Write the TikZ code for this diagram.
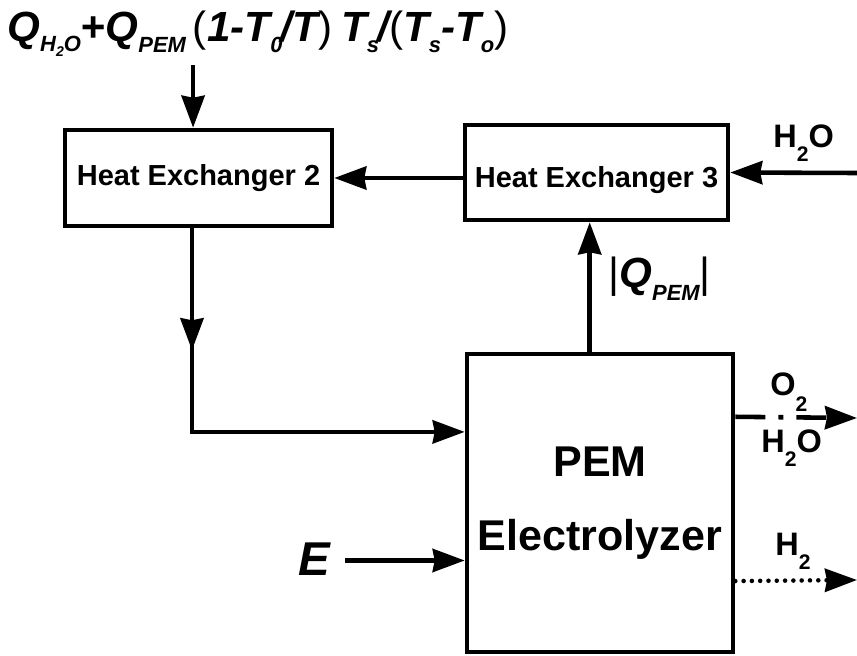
\documentclass[tikz,border=0pt]{standalone}
\usepackage{fontspec}
\setmainfont{Liberation Sans}
\usetikzlibrary{positioning, arrows.meta, calc, decorations.markings}

% lowered subscript: [size]{drop}{text}
\newcommand{\lowsub}[3][12]{\raisebox{-#2}{\fontsize{#1}{#1}\selectfont #3}}
\newcommand{\uppar}[1]{{\mdseries\upshape #1}}

\begin{document}
\begin{tikzpicture}[
    box/.style={draw, rectangle, line width=2.6pt, align=center, inner sep=0pt, font=\fontsize{16.5}{20}\selectfont\bfseries},
    arr/.style={-{Stealth[length=0.64cm, width=0.46cm, inset=0.04cm]}, line width=2.6pt},
    midarr/.style={postaction={decorate}, decoration={markings, mark=at position 2.44cm with {\arrow{Stealth[length=0.64cm, width=0.46cm, inset=0.04cm]}}}},
    lbl/.style={inner sep=0pt, anchor=base west, font=\fontsize{18.5}{21}\selectfont\bfseries},
    math/.style={inner sep=0pt, anchor=base west, font=\fontsize{24}{27}\selectfont\bfseries\itshape}
]
    \useasboundingbox (0,0) rectangle (17.14,-13.10);

    % blocks
    \node[box, minimum width=5.34cm, minimum height=1.92cm] (hx2) at (3.97,-3.56) {Heat Exchanger 2};
    \node[box, minimum width=5.26cm, minimum height=1.90cm] (hx3) at (11.93,-3.45) {\raisebox{-4.5pt}[\height][\depth]{Heat Exchanger 3}};
    \node[box, minimum width=5.32cm, minimum height=5.96cm, font=\fontsize{24.5}{42.5}\selectfont\bfseries] (pem) at (12.0,-10.06) {PEM\\Electrolyzer};

    % texts
    \node[math] (qin) at (0.14,-0.82) {Q\lowsub[12.5]{5.7pt}{H\lowsub[8]{3pt}{2}O}+Q\lowsub[12.5]{6.8pt}{PEM}\kern4pt\uppar{(}1-T\lowsub[12.5]{6.8pt}{0}\kern-1pt/T\uppar{)}\kern5pt T\lowsub[12.5]{6.8pt}{s}\kern-1pt/\uppar{(}T\lowsub[12.5]{6.8pt}{s}-T\lowsub[12.5]{6.8pt}{o}\uppar{)}};
    \node[math] (qpem) at (12.16,-5.74) {\uppar{|}Q\lowsub[12.5]{7.4pt}{PEM}\uppar{|}};
    \node[inner sep=0pt, font=\fontsize{27}{30}\selectfont\bfseries\itshape] (enode) at (6.28,-11.18) {E};
    \node[lbl] (h2oA) at (15.46,-2.94) {H\lowsub{8.5pt}{2}O};
    \node[lbl] (o2) at (15.4,-7.9) {O\lowsub{9.5pt}{2}};
    \node[lbl] (h2oB) at (15.22,-9.04) {H\lowsub{8.5pt}{2}O};
    \node[lbl] (h2) at (15.5,-11.1) {H\lowsub{8.5pt}{2}};

    % ports
    \coordinate (hx2in) at ($(hx2.north west)!0.48!(hx2.north east)$);
    \coordinate (hx2out) at ($(hx2.south west)!0.476!(hx2.south east)$);
    \coordinate (qtop) at ([yshift=1.25cm]hx2in);
    \coordinate (pemtop) at ($(pem.north west)!0.462!(pem.north east)$);
    \coordinate (pemin1) at ($(pem.north west)!0.265!(pem.south west)$);
    \coordinate (pemin2) at ($(pem.north west)!0.69!(pem.south west)$);
    \coordinate (pemout1) at ($(pem.north east)!0.215!(pem.south east)$);
    \coordinate (pemout2) at ($(pem.north east)!0.758!(pem.south east)$);
    \coordinate (h2oin) at (17.14,-3.46);
    \coordinate (o2end) at (17.14,-8.36);
    \coordinate (h2end) at (17.14,-11.6);

    % flows
    \draw[arr] (qtop) -- (hx2in);
    \draw[arr] (hx3.west |- hx2.east) -- (hx2.east);
    \draw[arr] (h2oin) -- (hx3.east);
    \draw[arr] (pemtop) -- (pemtop |- hx3.south);
    \draw[arr, midarr] (hx2out) |- (pemin1);
    \draw[arr, shorten <=0.3cm] (enode.east |- pemin2) -- (pemin2);
    \draw[arr, dash pattern=on 0.6cm off 0.26cm on 0.1cm off 0.26cm] (pemout1) -- (o2end);
    \draw[arr, line cap=round, dash pattern=on 0pt off 0.166cm] (pemout2) -- (h2end);
\end{tikzpicture}
\end{document}
